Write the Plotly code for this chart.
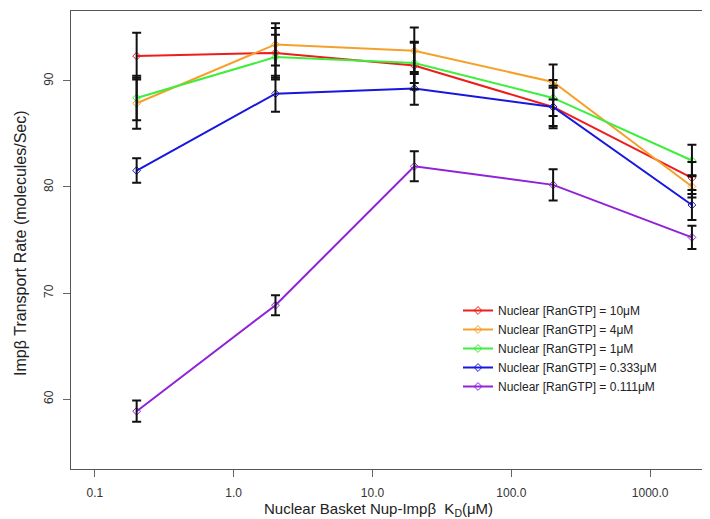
import plotly.graph_objects as go

# ---- data ----
kd_values = [0.2, 2, 20, 200, 2000]
series_names = [
    "Nuclear [RanGTP] = 10μM",
    "Nuclear [RanGTP] = 4μM",
    "Nuclear [RanGTP] = 1μM",
    "Nuclear [RanGTP] = 0.333μM",
    "Nuclear [RanGTP] = 0.111μM",
]
rate_10 = [92.35, 92.65, 91.45, 87.55, 80.85]
rate_4 = [87.9, 93.45, 92.85, 89.9, 80.05]
rate_1 = [88.4, 92.25, 91.7, 88.4, 82.5]
rate_0333 = [81.55, 88.8, 89.3, 87.55, 78.3]
rate_0111 = [58.85, 68.85, 81.95, 80.2, 75.25]
err_10 = [2.2, 2.35, 2.25, 1.8, 1.5]
err_4 = [2.4, 2.0, 2.2, 1.65, 1.05]
err_1 = [2.1, 2.1, 1.9, 1.7, 1.48]
err_0333 = [1.15, 1.7, 1.55, 2.0, 1.42]
err_0111 = [1.0, 0.95, 1.42, 1.47, 1.1]
x_tick_vals = [0.1, 1, 10, 100, 1000]
x_tick_text = ["0.1", "1.0", "10.0", "100.0", "1000.0"]
y_tick_vals = [60, 70, 80, 90]

rates = [rate_10, rate_4, rate_1, rate_0333, rate_0111]
errs = [err_10, err_4, err_1, err_0333, err_0111]
colors = ["#EE1C1C", "#F5A02A", "#3DEE3D", "#1717E0", "#9022D8"]

FONT = "Liberation Sans, Arial, sans-serif"

fig = go.Figure()
for name, r, c in zip(series_names, rates, colors):
    fig.add_trace(go.Scatter(
        x=kd_values, y=r, name=name, mode="lines+markers",
        line=dict(color=c, width=2),
        marker=dict(symbol="diamond-open", size=6, color=c, line=dict(width=1)),
    ))
for r, e in zip(rates, errs):
    fig.add_trace(go.Scatter(
        x=kd_values, y=r, mode="markers", showlegend=False, hoverinfo="skip",
        marker=dict(size=1, color="rgba(0,0,0,0)"),
        error_y=dict(type="data", array=e, visible=True, color="#111111",
                     thickness=2, width=4.5),
    ))

fig.update_layout(
    width=710, height=519, autosize=False,
    margin=dict(l=63, r=4, t=3, b=58),
    paper_bgcolor="white", plot_bgcolor="white",
    font=dict(family=FONT, color="#222222"),
    showlegend=True,
    legend=dict(
        x=(450 - 63) / 643, xanchor="left",
        y=(461 - 288) / 458, yanchor="top",
        bgcolor="rgba(0,0,0,0)", borderwidth=0,
        font=dict(family=FONT, size=12, color="#222222"),
        tracegroupgap=0,
    ),
    xaxis=dict(
        type="log", range=[-1.172, 3.46],
        tickvals=x_tick_vals, ticktext=x_tick_text,
        ticks="outside", ticklen=7, tickcolor="#666666", tickwidth=1,
        showline=True, mirror=True, linecolor="#555555", linewidth=1.3,
        showgrid=False, zeroline=False,
        tickfont=dict(family=FONT, size=12, color="#333333"),
        ticklabelstandoff=5,
    ),
    yaxis=dict(
        range=[53.4, 96.6], tickvals=y_tick_vals, tickangle=-90,
        ticks="outside", ticklen=7, tickcolor="#666666", tickwidth=1,
        showline=True, mirror=True, linecolor="#555555", linewidth=1.3,
        showgrid=False, zeroline=False,
        tickfont=dict(family=FONT, size=12, color="#333333"),
        ticklabelstandoff=5,
    ),
    annotations=[
        dict(text="Nuclear Basket Nup-Impβ  K<sub>D</sub>(μM)",
             xref="paper", yref="paper", x=(370 - 63) / 643, y=-(502 - 461) / 458,
             xanchor="center", yanchor="middle", showarrow=False,
             font=dict(family=FONT, size=15, color="#222222")),
        dict(text="Impβ Transport Rate (molecules/Sec)",
             xref="paper", yref="paper", x=(12 - 63) / 643, y=(461 - 235) / 458,
             xanchor="center", yanchor="middle", textangle=-90, showarrow=False,
             font=dict(family=FONT, size=16, color="#222222")),
    ],
)

fig.write_html("out.html")
